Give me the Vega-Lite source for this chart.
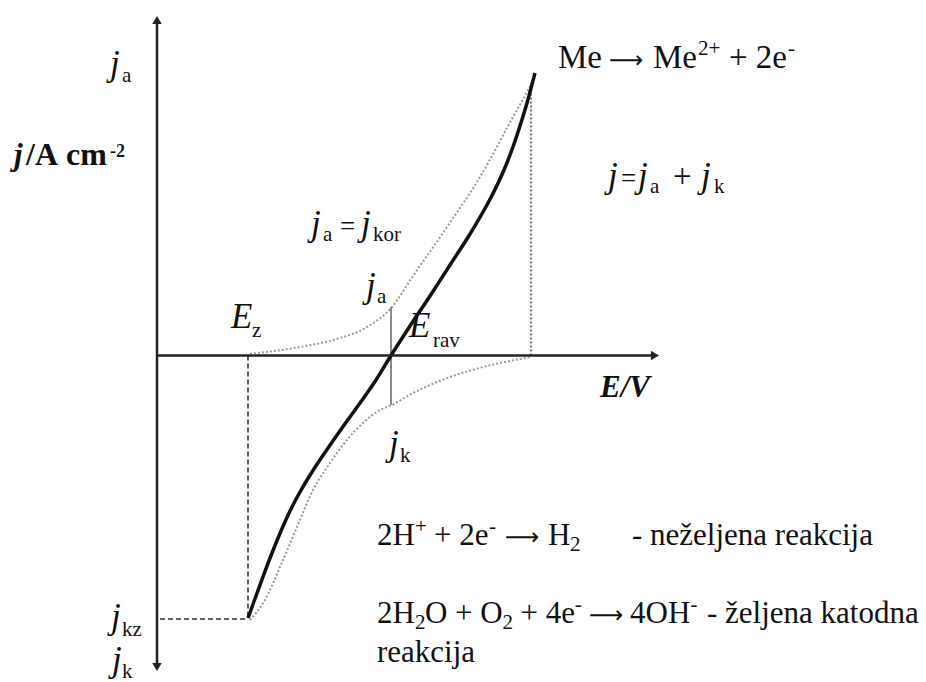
{
  "$schema": "https://vega.github.io/schema/vega-lite/v6.json",
  "width": 926,
  "height": 682,
  "autosize": {"type": "none"},
  "padding": 0,
  "background": "white",
  "config": {
    "view": {"stroke": null},
    "text": {"font": "Liberation Serif", "align": "left", "baseline": "alphabetic", "color": "#111"}
  },
  "datasets": {
    "axes": [
      {"E": 0, "j": 3.355, "E2": 0, "j2": -3.115},
      {"E": 0, "j": 0, "E2": 4.98, "j2": 0}
    ],
    "dashed": [
      {"E": 0.91, "j": 0, "E2": 0.91, "j2": -2.635},
      {"E": 0.03, "j": -2.635, "E2": 0.91, "j2": -2.635}
    ],
    "dotted": [
      {"E": 3.74, "j": 0, "E2": 3.74, "j2": 2.7}
    ],
    "marker": [
      {"E": 2.34, "j": 0.485, "E2": 2.34, "j2": -0.495}
    ],
    "partial": [
      {"curve": "ja", "E": 0.93, "j": 0.015},
      {"curve": "ja", "E": 1.43, "j": 0.085},
      {"curve": "ja", "E": 1.76, "j": 0.155},
      {"curve": "ja", "E": 2.10, "j": 0.285},
      {"curve": "ja", "E": 2.35, "j": 0.485},
      {"curve": "ja", "E": 2.56, "j": 0.795},
      {"curve": "ja", "E": 2.90, "j": 1.285},
      {"curve": "ja", "E": 3.23, "j": 1.785},
      {"curve": "ja", "E": 3.56, "j": 2.385},
      {"curve": "ja", "E": 3.70, "j": 2.635},
      {"curve": "ja", "E": 3.76, "j": 2.755},
      {"curve": "jk", "E": 0.93, "j": -2.645},
      {"curve": "jk", "E": 1.08, "j": -2.445},
      {"curve": "jk", "E": 1.23, "j": -2.115},
      {"curve": "jk", "E": 1.40, "j": -1.715},
      {"curve": "jk", "E": 1.56, "j": -1.345},
      {"curve": "jk", "E": 1.73, "j": -1.075},
      {"curve": "jk", "E": 1.90, "j": -0.845},
      {"curve": "jk", "E": 2.06, "j": -0.675},
      {"curve": "jk", "E": 2.23, "j": -0.545},
      {"curve": "jk", "E": 2.35, "j": -0.495},
      {"curve": "jk", "E": 2.56, "j": -0.375},
      {"curve": "jk", "E": 2.73, "j": -0.295},
      {"curve": "jk", "E": 2.93, "j": -0.215},
      {"curve": "jk", "E": 3.26, "j": -0.115},
      {"curve": "jk", "E": 3.74, "j": -0.015}
    ],
    "total": [
      {"E": 0.91, "j": -2.625},
      {"E": 0.99, "j": -2.405},
      {"E": 1.07, "j": -2.185},
      {"E": 1.15, "j": -1.975},
      {"E": 1.24, "j": -1.755},
      {"E": 1.33, "j": -1.555},
      {"E": 1.43, "j": -1.365},
      {"E": 1.55, "j": -1.165},
      {"E": 1.69, "j": -0.955},
      {"E": 1.85, "j": -0.725},
      {"E": 2.03, "j": -0.475},
      {"E": 2.19, "j": -0.245},
      {"E": 2.34, "j": 0.0},
      {"E": 2.53, "j": 0.295},
      {"E": 2.73, "j": 0.595},
      {"E": 2.93, "j": 0.905},
      {"E": 3.13, "j": 1.215},
      {"E": 3.31, "j": 1.525},
      {"E": 3.43, "j": 1.765},
      {"E": 3.53, "j": 2.005},
      {"E": 3.62, "j": 2.265},
      {"E": 3.70, "j": 2.525},
      {"E": 3.78, "j": 2.825}
    ],
    "arrows": [
      {"E": 0, "j": 3.355, "dir": "up"},
      {"E": 0, "j": -3.115, "dir": "down"},
      {"E": 4.98, "j": 0, "dir": "right"}
    ],
    "reg31": [
      {"E": 2.20, "j": -1.895, "t": "2H"},
      {"E": 2.77, "j": -1.895, "t": "+ 2e"},
      {"E": 3.91, "j": -1.895, "t": "H"},
      {"E": 4.75, "j": -1.895, "t": "- neželjena reakcija"},
      {"E": 2.20, "j": -2.675, "t": "2H"},
      {"E": 2.679, "j": -2.675, "t": "O + O"},
      {"E": 3.634, "j": -2.675, "t": "+ 4e"},
      {"E": 4.73, "j": -2.675, "t": "4OH"},
      {"E": 5.50, "j": -2.675, "t": "- željena katodna"},
      {"E": 2.20, "j": -3.065, "t": "reakcija"}
    ],
    "arrowsText": [
      {"E": 3.48, "j": -1.895, "t": "⟶"},
      {"E": 4.32, "j": -2.675, "t": "⟶"},
      {"E": 4.52, "j": 2.875, "t": "⟶"}
    ],
    "reg33": [
      {"E": 4.01, "j": 2.875, "t": "Me"},
      {"E": 4.96, "j": 2.875, "t": "Me"},
      {"E": 5.72, "j": 2.875, "t": "+ 2e"},
      {"E": 5.16, "j": 1.685, "t": "+"}
    ],
    "equals": [
      {"E": 4.64, "j": 1.685, "t": "="},
      {"E": 1.83, "j": 1.205, "t": "="}
    ],
    "small": [
      {"E": 5.41, "j": 3.005, "t": "2+"},
      {"E": 6.31, "j": 3.005, "t": "-"},
      {"E": 4.93, "j": 1.625, "t": "a"},
      {"E": 5.57, "j": 1.625, "t": "k"},
      {"E": 1.66, "j": 1.145, "t": "a"},
      {"E": 2.16, "j": 1.145, "t": "kor"},
      {"E": 2.20, "j": 0.525, "t": "a"},
      {"E": 0.95, "j": 0.185, "t": "z"},
      {"E": 2.76, "j": 0.085, "t": "rav"},
      {"E": 2.43, "j": -1.065, "t": "k"},
      {"E": -0.35, "j": 2.735, "t": "a"},
      {"E": -0.35, "j": -2.805, "t": "kz"},
      {"E": -0.35, "j": -3.225, "t": "k"},
      {"E": 2.58, "j": -1.775, "t": "+"},
      {"E": 3.32, "j": -1.775, "t": "-"},
      {"E": 4.13, "j": -1.955, "t": "2"},
      {"E": 2.579, "j": -2.735, "t": "2"},
      {"E": 3.456, "j": -2.735, "t": "2"},
      {"E": 4.178, "j": -2.555, "t": "-"},
      {"E": 5.335, "j": -2.555, "t": "-"}
    ],
    "italic": [
      {"E": -0.47, "j": 2.805, "t": "j"},
      {"E": 4.51, "j": 1.685, "t": "j"},
      {"E": 4.81, "j": 1.685, "t": "j"},
      {"E": 5.44, "j": 1.685, "t": "j"},
      {"E": 1.54, "j": 1.205, "t": "j"},
      {"E": 2.04, "j": 1.205, "t": "j"},
      {"E": 2.09, "j": 0.585, "t": "j"},
      {"E": 0.74, "j": 0.275, "t": "E"},
      {"E": 2.52, "j": 0.185, "t": "E"},
      {"E": 2.32, "j": -0.995, "t": "j"},
      {"E": -0.46, "j": -2.725, "t": "j"},
      {"E": -0.45, "j": -3.155, "t": "j"}
    ],
    "bold": [
      {"E": -1.31, "j": 1.905, "t": "/A"},
      {"E": -0.91, "j": 1.905, "t": "cm"}
    ],
    "bolditalic": [
      {"E": -1.43, "j": 1.905, "t": "j"},
      {"E": 4.43, "j": -0.415, "t": "E/V"}
    ],
    "boldsmall": [
      {"E": -0.47, "j": 1.985, "t": "-2"}
    ]
  },
  "encoding": {
    "x": {"field": "E", "type": "quantitative", "scale": {"domain": [-1.57, 7.69], "nice": false, "zero": false}, "axis": null},
    "y": {"field": "j", "type": "quantitative", "scale": {"domain": [-3.265, 3.555], "nice": false, "zero": false}, "axis": null}
  },
  "layer": [
    {
      "data": {"name": "dashed"},
      "mark": {"type": "rule", "color": "#333", "strokeWidth": 1.6, "strokeDash": [5, 3]},
      "encoding": {"x2": {"field": "E2"}, "y2": {"field": "j2"}}
    },
    {
      "data": {"name": "dotted"},
      "mark": {"type": "rule", "color": "#777", "strokeWidth": 2, "strokeDash": [2, 2]},
      "encoding": {"x2": {"field": "E2"}, "y2": {"field": "j2"}}
    },
    {
      "data": {"name": "marker"},
      "mark": {"type": "rule", "color": "#888", "strokeWidth": 2},
      "encoding": {"x2": {"field": "E2"}, "y2": {"field": "j2"}}
    },
    {
      "data": {"name": "partial"},
      "mark": {"type": "line", "color": "#999", "strokeWidth": 2, "strokeDash": [2, 2], "interpolate": "monotone"},
      "encoding": {"detail": {"field": "curve"}}
    },
    {
      "data": {"name": "total"},
      "mark": {"type": "line", "color": "#111", "strokeWidth": 3.5, "interpolate": "monotone"},
      "encoding": {}
    },
    {
      "data": {"name": "axes"},
      "mark": {"type": "rule", "color": "#222", "strokeWidth": 2.5},
      "encoding": {"x2": {"field": "E2"}, "y2": {"field": "j2"}}
    },
    {
      "data": {"name": "arrows"},
      "mark": {"type": "point", "filled": true, "color": "#222", "opacity": 1, "size": 90},
      "encoding": {
        "shape": {"field": "dir", "type": "nominal", "scale": {"domain": ["up", "down", "right"], "range": ["triangle-up", "triangle-down", "triangle-right"]}, "legend": null}
      }
    },
    {
      "data": {"name": "reg31"},
      "mark": {"type": "text", "fontSize": 31},
      "encoding": {"text": {"field": "t"}}
    },
    {
      "data": {"name": "arrowsText"},
      "mark": {"type": "text", "fontSize": 24, "font": "DejaVu Sans"},
      "encoding": {"text": {"field": "t"}}
    },
    {
      "data": {"name": "reg33"},
      "mark": {"type": "text", "fontSize": 33},
      "encoding": {"text": {"field": "t"}}
    },
    {
      "data": {"name": "equals"},
      "mark": {"type": "text", "fontSize": 27},
      "encoding": {"text": {"field": "t"}}
    },
    {
      "data": {"name": "small"},
      "mark": {"type": "text", "fontSize": 21},
      "encoding": {"text": {"field": "t"}}
    },
    {
      "data": {"name": "italic"},
      "mark": {"type": "text", "fontSize": 35, "fontStyle": "italic"},
      "encoding": {"text": {"field": "t"}}
    },
    {
      "data": {"name": "bold"},
      "mark": {"type": "text", "fontSize": 32, "fontWeight": "bold"},
      "encoding": {"text": {"field": "t"}}
    },
    {
      "data": {"name": "bolditalic"},
      "mark": {"type": "text", "fontSize": 31, "fontWeight": "bold", "fontStyle": "italic"},
      "encoding": {"text": {"field": "t"}}
    },
    {
      "data": {"name": "boldsmall"},
      "mark": {"type": "text", "fontSize": 18, "fontWeight": "bold"},
      "encoding": {"text": {"field": "t"}}
    }
  ]
}
